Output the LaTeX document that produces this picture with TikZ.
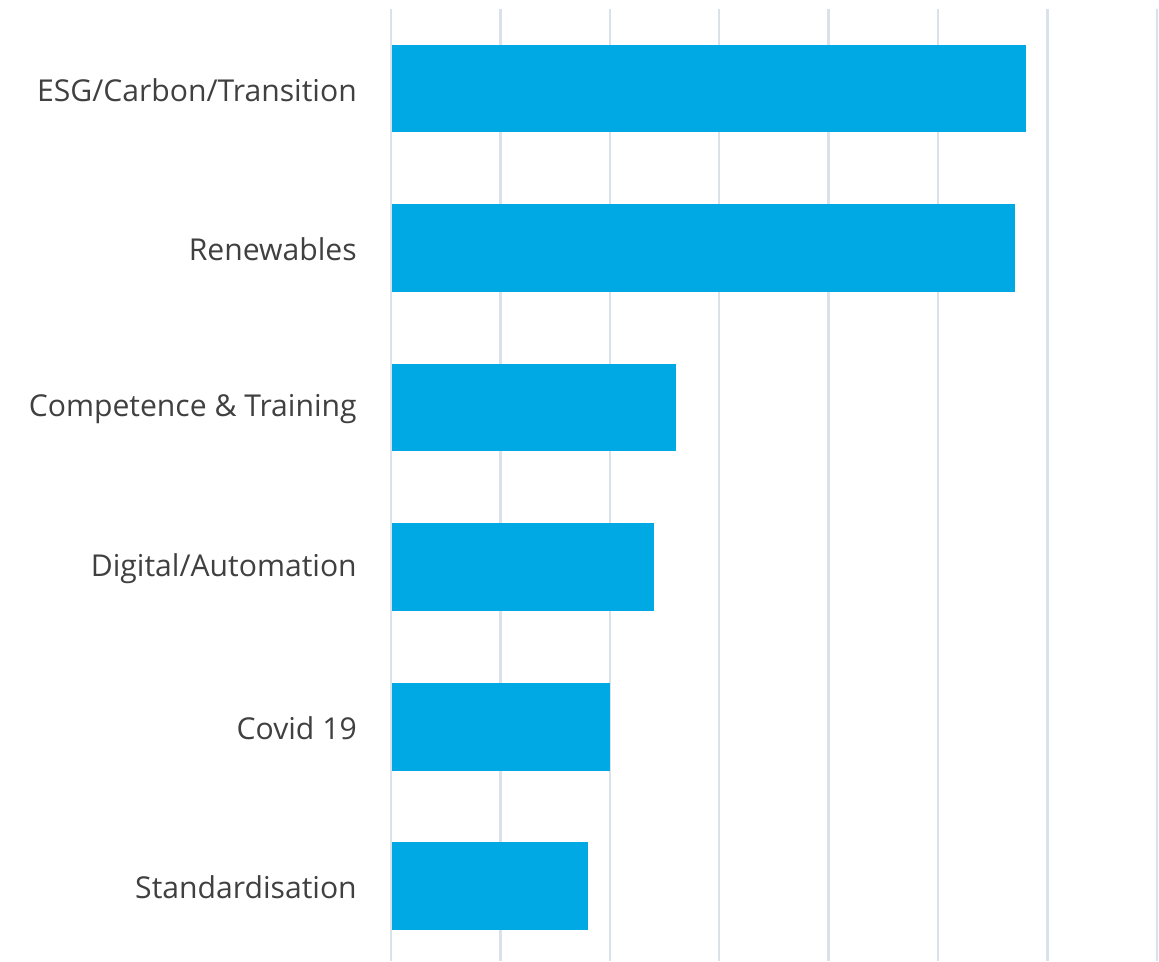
\documentclass[tikz,border=0pt]{standalone}
\usepackage{fontspec}
\setmainfont{Open Sans}
\definecolor{barblue}{HTML}{00A8E4}
\definecolor{gridgray}{HTML}{D9E1EA}
\definecolor{labelgray}{HTML}{404040}
\tikzstyle{bar}=[fill=barblue,draw=none,inner sep=0pt,anchor=west,minimum height=65.6pt]
\tikzstyle{lbl}=[anchor=east,inner sep=0pt,text=labelgray,font=\fontsize{22.6}{27}\selectfont]
\tikzstyle{grid}=[draw=gridgray,line width=1.8pt]

\begin{document}
\begin{tikzpicture}[x=0.75pt,y=-0.75pt]
  \useasboundingbox (0,0) rectangle (1159,961);
  % vertical grid lines
  \foreach \gx in {391,500.4,609.8,719.2,828.6,938,1047.4,1156.8}
    \draw[grid] (\gx,9) -- (\gx,961);

  \node[bar,minimum width=475.5pt] (esg) at (391.5,88.5) {};
  \node[bar,minimum width=467.3pt] (ren) at (391.5,248) {};
  \node[bar,minimum width=213pt] (comp) at (391.5,407.5) {};
  \node[bar,minimum width=196.5pt] (dig) at (391.5,567) {};
  \node[bar,minimum width=163.5pt] (cov) at (391.5,727) {};
  \node[bar,minimum width=147pt] (std) at (391.5,886) {};

  \node[lbl] (lesg) at (357,90) {ESG/Carbon/Transition};
  \node[lbl] (lren) at (357,249.5) {Renewables};
  \node[lbl] (lcomp) at (357,409.5) {Competence \& Training};
  \node[lbl] (ldig) at (357,568.5) {Digital/Automation};
  \node[lbl] (lcov) at (357,728.5) {Covid 19};
  \node[lbl] (lstd) at (357,887.5) {Standardisation};
\end{tikzpicture}
\end{document}
